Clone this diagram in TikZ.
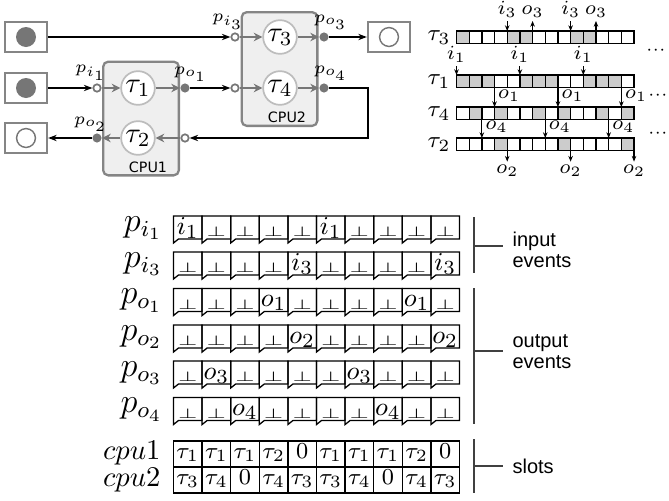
\documentclass[tikz,border=0pt]{standalone}
\usepackage{fontspec}
\usepackage{graphicx}
\usetikzlibrary{arrows.meta}

\newfontfamily\notefont{Liberation Sans}
\newfontfamily\cpufont{DejaVu Sans}

\definecolor{framegray}{HTML}{858585}
\definecolor{portgray}{HTML}{767676}
\definecolor{taskgray}{HTML}{BDBDBD}
\definecolor{cpufill}{HTML}{EFEFEF}
\definecolor{busygray}{HTML}{CCCCCC}

\newcommand\noev{\scalebox{1}[0.6]{\fontsize{8}{9}\selectfont$\bot$}}

\begin{document}
\begin{tikzpicture}[x=0.35pt, y=-0.35pt,
  env/.style={rectangle, draw=framegray, line width=0.8pt, fill=white, minimum width=14.7pt, minimum height=10.5pt, inner sep=0pt},
  token/.style={circle, fill=portgray, minimum size=7pt, inner sep=0pt},
  hole/.style={circle, draw=portgray, line width=0.5pt, minimum size=6.6pt, inner sep=0pt},
  cpu/.style={rectangle, rounded corners=1.8pt, draw=framegray, line width=0.8pt, fill=cpufill, minimum width=26.5pt, minimum height=39.8pt},
  cpulab/.style={font=\cpufont\fontsize{5}{6}\selectfont, inner sep=0pt},
  task/.style={circle, draw=taskgray, line width=0.6pt, fill=white, minimum size=11.8pt, inner sep=0pt},
  inport/.style={circle, draw=portgray, line width=0.6pt, fill=white, minimum size=2.6pt, inner sep=0pt},
  outport/.style={circle, fill=portgray, minimum size=3.2pt, inner sep=0pt},
  plab/.style={font=\fontsize{6.4}{7}\selectfont, inner sep=0pt},
  flow/.style={-{Stealth[length=3pt, width=3pt]}, draw=portgray, line width=0.6pt},
  link/.style={-{Stealth[length=3pt, width=2.2pt]}, line width=0.8pt},
  evarrow/.style={-{Stealth[length=2pt, width=1.6pt]}, line width=0.4pt},
  evlab/.style={font=\fontsize{7.5}{8}\selectfont, inner sep=1pt},
  lanelab/.style={font=\fontsize{8.5}{10}\selectfont, anchor=east, inner sep=0pt},
  dots/.style={font=\fontsize{6}{7}\selectfont, inner sep=0pt},
  rowlab/.style={font=\fontsize{12}{14}\selectfont, anchor=east, inner sep=0pt},
  cell/.style={font=\fontsize{9.5}{11}\selectfont, anchor=base, inner sep=0pt},
  slot/.style={font=\fontsize{8.5}{10}\selectfont, anchor=base, inner sep=0pt},
  note/.style={font=\notefont\fontsize{7}{7.4}\selectfont, align=left, anchor=west, inner sep=0pt},
  brk/.style={line width=0.6pt, draw=black!75},
]
\useasboundingbox (0,0) rectangle (669,500);

% environment
\node[env] (src1) at (26,37) {};
\node[env] (src2) at (26,88) {};
\node[env] (snk2) at (26,138) {};
\node[env] (snk3) at (389,37) {};
\node[token] (src1d) at (src1) {};
\node[token] (src2d) at (src2) {};
\node[hole] (snk2d) at (snk2) {};
\node[hole] (snk3d) at (snk3) {};

% processors
\node[cpu] (cpu1) at (141,118.5) {};
\node[cpu] (cpu2) at (279.5,69) {};
\node[cpulab] (cpu1lab) at (148,167) {CPU1};
\node[cpulab] (cpu2lab) at (287,117) {CPU2};

\node[task] (t1) at (138,88) {$\tau_1$};
\node[task] (t2) at (138,138) {$\tau_2$};
\node[task] (t3) at (280,37) {$\tau_3$};
\node[task] (t4) at (280,88) {$\tau_4$};

\node[inport] (pi1) at (97,88) {};
\node[outport] (po1) at (185,88) {};
\node[inport] (in2) at (185,138) {};
\node[outport] (po2) at (97,138) {};
\node[inport] (pi3) at (235,37) {};
\node[outport] (po3) at (324,37) {};
\node[inport] (in4) at (235,88) {};
\node[outport] (po4) at (324,88) {};

\node[plab] (lpi1) at (91,73) {$p_{i_1}$};
\node[plab] (lpo1) at (191,74) {$p_{o_1}$};
\node[plab] (lpo2) at (91,124) {$p_{o_2}$};
\node[plab] (lpi3) at (228,22) {$p_{i_3}$};
\node[plab] (lpo3) at (331,22) {$p_{o_3}$};
\node[plab] (lpo4) at (331,73) {$p_{o_4}$};

\draw[flow] (pi1) -- (t1);
\draw[flow] (t1) -- (po1);
\draw[flow] (in2) -- (t2);
\draw[flow] (t2) -- (po2);
\draw[flow] (pi3) -- (t3);
\draw[flow] (t3) -- (po3);
\draw[flow] (in4) -- (t4);
\draw[flow] (t4) -- (po4);

\draw[link] (src1) -- (pi3);
\draw[link] (src2) -- (pi1);
\draw[link] (po1) -- (in4);
\draw[link] (po3) -- (snk3);
\draw[link] (po4) -- ++(44,0) |- (in2);
\draw[link] (po2) -- (snk2);

% schedule lanes
\foreach \tsk/\ty/\busy in {3/31/{0,4,5,9,10}, 1/75/{0,1,2,5,6,7,10,11,12}, 4/107/{1,3,6,8,11,13}, 2/138/{3,8,13}} {
  \foreach \c in \busy \fill[busygray] (456.5+\c*12.68,\ty) rectangle ++(12.68,12.6);
  \foreach \c in {0,...,13} \draw[line width=0.45pt] (456.5+\c*12.68,\ty) rectangle ++(12.68,12.6);
  \node[lanelab] (lane\tsk) at (451,\ty+6.5) {$\tau_\tsk$};
}
\foreach \c in {4,9} {
  \draw[evarrow] (456.5+\c*12.68,21) node[evlab, above] {$i_3$} -- ++(0,10);
  \draw[evarrow] (456.5+\c*12.68+25.36,31) -- ++(0,-10) node[evlab, above] {$o_3$};
}
\foreach \c in {0,5,10} \draw[evarrow] (456.5+\c*12.68,66) node[evlab, above] {$i_1$} -- ++(0,9);
\foreach \c in {3,8,13} \draw[evarrow] (456.5+\c*12.68,87.6) -- node[evlab, right, pos=0.42] {$o_1$} ++(0,19.4);
\foreach \c in {2,7,12} \draw[evarrow] (456.5+\c*12.68,119.6) -- node[evlab, right, pos=0.4] {$o_4$} ++(0,18.4);
\foreach \c in {4,9,14} \draw[evarrow] (456.5+\c*12.68,150.6) -- ++(0,11) node[evlab, below] {$o_2$};
\node[dots] (more1) at (656,50) {$\mathord\cdot\mathord\cdot\mathord\cdot$};
\node[dots] (more2) at (658,95) {$\mathord\cdot\mathord\cdot\mathord\cdot$};
\node[dots] (more3) at (658,133) {$\mathord\cdot\mathord\cdot\mathord\cdot$};

% event table
\foreach \ev/\ty/\pa/\pb [count=\r] in {i_1/216/0/5, i_3/252/4/9, o_1/288.5/3/8, o_2/325/4/9, o_3/361/1/6, o_4/397.5/2/7} {
  \node[rowlab] (port\r) at (163,\ty+12) {$p_{\ev}$};
  \foreach \k in {0,...,9} {
    \draw[line width=0.45pt] (173.5+\k*28.6,\ty) -- ++(28.6,0) -- ++(0,23) -- ++(-23.6,0) -- ++(-5,4) -- cycle;
    \ifnum\k=\pa\relax \node[cell] (e\r-\k) at (187.8+\k*28.6,\ty+18) {$\ev$};
    \else\ifnum\k=\pb\relax \node[cell] (e\r-\k) at (187.8+\k*28.6,\ty+18) {$\ev$};
    \else \node[cell] (e\r-\k) at (187.8+\k*28.6,\ty+20.5) {\noev};
    \fi\fi
  }
}

% slot table
\draw[line width=0.45pt] (173.5,441) rectangle (459.5,493) (173.5,467) -- (459.5,467);
\foreach \k in {1,...,9} \draw[line width=0.45pt] (173.5+\k*28.6,441) -- ++(0,52);
\foreach \tsk [count=\k from 0] in {\tau_1,\tau_1,\tau_1,\tau_2,0,\tau_1,\tau_1,\tau_1,\tau_2,0}
  \node[slot] (s1-\k) at (187.8+\k*28.6,458) {$\tsk$};
\foreach \tsk [count=\k from 0] in {\tau_3,\tau_4,0,\tau_4,\tau_3,\tau_3,\tau_4,0,\tau_4,\tau_3}
  \node[slot] (s2-\k) at (187.8+\k*28.6,484) {$\tsk$};
\node[rowlab, font=\fontsize{10}{12}\selectfont] (cpurow1) at (161,453.5) {$cpu1$};
\node[rowlab, font=\fontsize{10}{12}\selectfont] (cpurow2) at (161,480) {$cpu2$};

% groups
\draw[brk] (474,217) -- (474,273) (474,246) -- (503,246);
\node[note] (inlab) at (512,250) {input\\events};
\draw[brk] (474,288) -- (474,424) (474,351) -- (503,351);
\node[note] (outlab) at (512,352) {output\\events};
\draw[brk] (474,439) -- (474,493) (474,466) -- (503,466);
\node[note] (slotlab) at (512,466) {slots};
\end{tikzpicture}
\end{document}
